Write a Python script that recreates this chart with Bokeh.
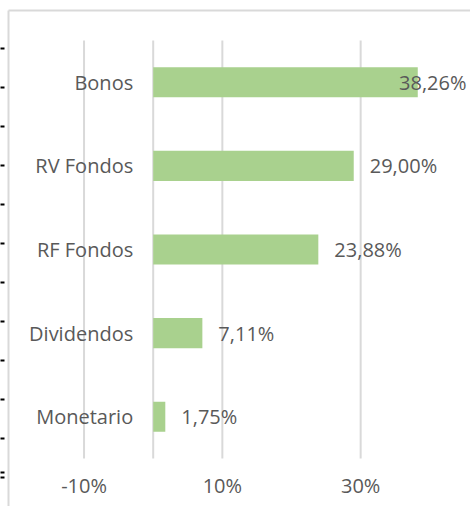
from bokeh.plotting import figure
from bokeh.models import Range1d, LinearAxis, FixedTicker, ColumnDataSource
from bokeh.embed import file_html
from bokeh.resources import INLINE
from bokeh.core.properties import value

# ---------------- data ----------------
categories = ["Bonos", "RV Fondos", "RF Fondos", "Dividendos", "Monetario"]
shares = [38.26, 29.00, 23.88, 7.11, 1.75]
x_ticks = [-10, 10, 30]
x_tick_labels = ["-10%", "10%", "30%"]

# ---------------- style / geometry ----------------
W, H = 470, 506
FONT = "Open Sans"
TXT = "#595959"
GRID = "#d9d9d9"
BAR = "#a9d18e"
FS = "20px"

px_per_pct = 6.915          # horizontal scale
zero_px = 144.7             # position of 0% inside the frame
frame_w = W - 8
cat_px = 83.6               # height of one category band
plot_bottom_px = 458 - 10   # bottom of plot area inside the frame
frame_h = H - 10

x_start = -zero_px / px_per_pct
x_end = (frame_w - zero_px) / px_per_pct
y_end = plot_bottom_px / cat_px
y_start = -(frame_h - plot_bottom_px) / cat_px

n = len(categories)
ypos = [n - 1 - i + 0.5 for i in range(n)]
labels = [f"{v:.2f}".replace(".", ",") + "%" for v in shares]

p = figure(width=W, height=H, output_backend="svg", toolbar_location=None,
           x_range=Range1d(x_start, x_end), y_range=Range1d(y_start, y_end),
           x_axis_location=None, y_axis_location=None,
           min_border_left=8, min_border_top=10, min_border_right=0, min_border_bottom=0)
p.grid.grid_line_color = None
p.outline_line_color = None
p.background_fill_color = "white"
p.border_fill_color = "white"

# chart-area border (top and left) + left-edge marks
p.extra_y_ranges = {"deco": Range1d(0, frame_h)}
deco_ticks = [frame_h - (s - 10) for s in [48.3, 87, 126, 165, 204, 243, 282, 321, 360, 399, 438, 471.7, 477]]
left = LinearAxis(y_range_name="deco", ticker=FixedTicker(ticks=deco_ticks),
                  axis_line_color=GRID, axis_line_width=2,
                  major_tick_line_color="black", major_tick_line_width=2,
                  major_tick_in=-4, major_tick_out=8,
                  minor_tick_line_color=None, minor_tick_in=0, minor_tick_out=0,
                  major_label_text_font_size="0px", major_label_text_color=None,
                  major_label_standoff=0)
p.add_layout(left, "left")
top = LinearAxis(ticker=FixedTicker(ticks=[]), axis_line_color=GRID, axis_line_width=2,
                 major_tick_line_color=None, major_tick_in=0, major_tick_out=0,
                 minor_tick_line_color=None, minor_tick_in=0, minor_tick_out=0,
                 major_label_text_font_size="0px", major_label_text_color=None,
                 major_label_standoff=0)
p.add_layout(top, "above")

# gridlines and category axis line
p.segment(x0=x_ticks, y0=[0] * len(x_ticks), x1=x_ticks, y1=[n] * len(x_ticks),
          line_color=GRID, line_width=2)
p.segment(x0=[0], y0=[0], x1=[0], y1=[n], line_color=GRID, line_width=2)

# bars
src = ColumnDataSource(dict(cat=categories, y=ypos, v=shares, lab=labels))
p.hbar(y="y", left=0, right="v", height=0.36, source=src, fill_color=BAR, line_color=None)

# category labels
p.text(x=0, y="y", text="cat", source=src, x_offset=-20, text_align="right",
       text_baseline="middle", text_font=value(FONT), text_font_size=FS, text_color=TXT)

# value labels (outside end; shifted inside when it would overflow)
label_w = 68
fits = [(v - x_start) * px_per_pct + 16 + label_w <= frame_w - 4 for v in shares]
out_src = ColumnDataSource(dict(x=[v for v, f in zip(shares, fits) if f],
                                y=[y for y, f in zip(ypos, fits) if f],
                                t=[l for l, f in zip(labels, fits) if f]))
in_src = ColumnDataSource(dict(x=[x_end for f in fits if not f],
                               y=[y for y, f in zip(ypos, fits) if not f],
                               t=[l for l, f in zip(labels, fits) if not f]))
p.text(x="x", y="y", text="t", source=out_src, x_offset=16, text_align="left",
       text_baseline="middle", text_font=value(FONT), text_font_size=FS, text_color=TXT)
p.text(x="x", y="y", text="t", source=in_src, x_offset=-4, text_align="right",
       text_baseline="middle", text_font=value(FONT), text_font_size=FS, text_color=TXT)

# value-axis tick labels
p.text(x=x_ticks, y=[-27 / cat_px] * len(x_ticks), text=x_tick_labels, text_align="center",
       text_baseline="middle", text_font=value(FONT), text_font_size=FS, text_color=TXT)

open("out.html", "w").write(file_html(p, INLINE))
